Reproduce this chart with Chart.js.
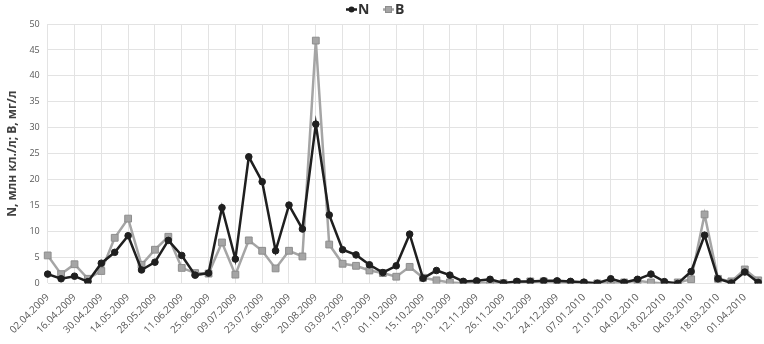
<!DOCTYPE html>
<html>
<head>
<meta charset="utf-8">
<script src="https://cdn.jsdelivr.net/npm/chart.js@4.4.1/dist/chart.umd.min.js"></script>
<style>
  html, body { margin: 0; padding: 0; background: #fff; }
  #wrap { width: 764px; height: 344px; }
</style>
</head>
<body>
<div id="wrap"><canvas id="chart"></canvas></div>
<script>
// weekly sampling dates
const dates = [
  "02.04.2009", "09.04.2009", "16.04.2009", "23.04.2009", "30.04.2009",
  "07.05.2009", "14.05.2009", "21.05.2009", "28.05.2009",
  "04.06.2009", "11.06.2009", "18.06.2009", "25.06.2009",
  "02.07.2009", "09.07.2009", "16.07.2009", "23.07.2009", "30.07.2009",
  "06.08.2009", "13.08.2009", "20.08.2009", "27.08.2009",
  "03.09.2009", "10.09.2009", "17.09.2009", "24.09.2009",
  "01.10.2009", "08.10.2009", "15.10.2009", "22.10.2009", "29.10.2009",
  "05.11.2009", "12.11.2009", "19.11.2009", "26.11.2009",
  "03.12.2009", "10.12.2009", "17.12.2009", "24.12.2009", "31.12.2009",
  "07.01.2010", "14.01.2010", "21.01.2010", "28.01.2010",
  "04.02.2010", "11.02.2010", "18.02.2010", "25.02.2010",
  "04.03.2010", "11.03.2010", "18.03.2010", "25.03.2010",
  "01.04.2010", "08.04.2010"
];

// N, млн кл./л
const valuesN = [
  1.8, 0.9, 1.4, 0.35, 3.9, 6.0, 9.2, 2.6, 4.1, 8.3,
  5.4, 1.6, 2.0, 14.6, 4.7, 24.4, 19.6, 6.3, 15.1, 10.5,
  30.7, 13.2, 6.5, 5.5, 3.6, 2.1, 3.4, 9.5, 1.0, 2.5,
  1.6, 0.4, 0.5, 0.8, 0.1, 0.4, 0.4, 0.5, 0.5, 0.4,
  0.25, 0.05, 0.9, 0.2, 0.8, 1.8, 0.35, 0.0, 2.3, 9.3,
  0.9, 0.1, 2.2, 0.2
];

// B, мг/л
const valuesB = [
  5.4, 1.8, 3.7, 0.9, 2.4, 8.8, 12.5, 3.6, 6.5, 9.0,
  3.0, 2.0, 1.9, 7.9, 1.7, 8.3, 6.3, 2.9, 6.3, 5.2,
  46.8, 7.5, 3.8, 3.4, 2.5, 2.0, 1.3, 3.2, 1.1, 0.6,
  0.2, 0.05, 0.05, 0.2, 0.05, 0.2, 0.4, 0.4, 0.2, 0.05,
  0.0, 0.0, 0.1, 0.2, 0.5, 0.2, 0.0, 0.2, 0.8, 13.3,
  0.9, 0.4, 2.7, 0.6
];

const yTicks = [0, 5, 10, 15, 20, 25, 30, 35, 40, 45, 50];

const colorN = "#1f1f1f";
const colorB = "#a5a5a5";
const borderB = "#8d8d8d";

// Excel-like legend: short line with marker, then bold label
const topLegend = {
  id: "topLegend",
  afterDraw(chart) {
    const g = chart.ctx;
    const y = 9.5;
    const items = [
      { x: 346, ds: chart.data.datasets[0], shape: "circle" },
      { x: 383, ds: chart.data.datasets[1], shape: "rect" }
    ];
    g.save();
    items.forEach(it => {
      g.strokeStyle = it.ds.borderColor;
      g.lineWidth = 2.5;
      g.beginPath(); g.moveTo(it.x, y); g.lineTo(it.x + 11, y); g.stroke();
      g.fillStyle = it.ds.backgroundColor;
      if (it.shape === "circle") {
        g.beginPath(); g.arc(it.x + 5.5, y, 3, 0, Math.PI * 2); g.fill();
      } else {
        g.strokeStyle = borderB; g.lineWidth = 1;
        g.fillRect(it.x + 2.5, y - 3, 6, 6); g.strokeRect(it.x + 2.5, y - 3, 6, 6);
      }
      g.fillStyle = "#333333";
      g.font = "bold 14px 'Open Sans', 'Noto Sans', sans-serif";
      g.textBaseline = "middle";
      g.textAlign = "left";
      g.fillText(it.ds.label, it.x + 12, y + 0.5);
    });
    g.restore();
  }
};

Chart.defaults.font.family = "'Open Sans', 'Noto Sans', sans-serif";
Chart.defaults.color = "#595959";

new Chart(document.getElementById("chart"), {
  type: "line",
  data: {
    labels: dates,
    datasets: [
      {
        label: "N",
        data: valuesN,
        borderColor: colorN,
        backgroundColor: colorN,
        borderWidth: 2.5,
        pointStyle: "circle",
        pointRadius: 3.3,
        pointBorderWidth: 1,
        tension: 0
      },
      {
        label: "B",
        data: valuesB,
        borderColor: colorB,
        backgroundColor: colorB,
        pointBorderColor: borderB,
        borderWidth: 2.5,
        pointStyle: "rect",
        pointRadius: 4.8,
        pointBorderWidth: 1,
        tension: 0
      }
    ]
  },
  plugins: [topLegend],
  options: {
    responsive: true,
    maintainAspectRatio: false,
    animation: false,
    layout: { padding: { left: 5, right: 2, top: 24, bottom: 0 } },
    plugins: {
      tooltip: { enabled: false },
      legend: { display: false }
    },
    scales: {
      x: {
        type: "category",
        offset: false,
        grid: { color: "#e3e3e3", drawTicks: false },
        border: { display: false },
        ticks: {
          autoSkip: false,
          minRotation: 45,
          maxRotation: 45,
          padding: 8,
          font: { size: 10 },
          color: "#595959",
          callback: function (val, i) {
            return i % 2 === 0 ? this.getLabelForValue(val) : null;
          }
        }
      },
      y: {
        min: 0,
        max: 50,
        afterBuildTicks: function (axis) {
          axis.ticks = yTicks.map(v => ({ value: v }));
        },
        grid: { color: "#e3e3e3", drawTicks: false },
        border: { display: false },
        ticks: { padding: 8, font: { size: 9 }, color: "#595959" },
        title: {
          display: true,
          text: "N, млн кл./л; B, мг/л",
          color: "#404040",
          font: { size: 12, weight: "bold" },
          padding: { top: 0, bottom: 2 }
        }
      }
    }
  }
});
</script>
</body>
</html>
